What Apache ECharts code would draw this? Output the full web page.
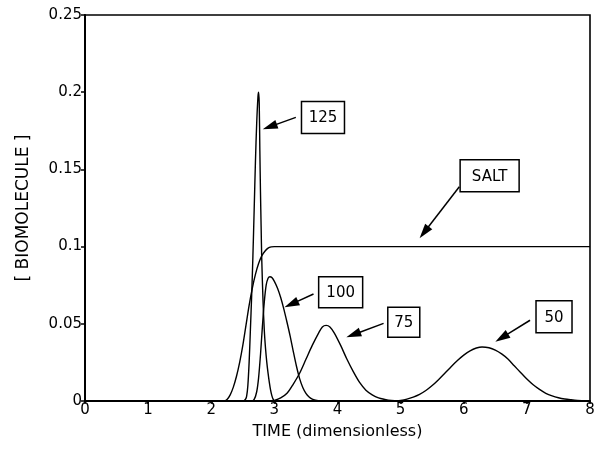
<!DOCTYPE html>
<html><head><meta charset="utf-8">
<script src="https://cdn.jsdelivr.net/npm/echarts@6/dist/echarts.min.js"></script>
<style>html,body{margin:0;padding:0;background:#fff}#c{width:604px;height:449px}</style>
</head><body><div id="c"></div>
<script>
// ---- data ----
const xRange = [0, 8];
const yRange = [0, 0.25];
const salt = [[0,0],[2.2,0],[2.25,0.001],[2.3,0.004],[2.35,0.009],[2.4,0.016],[2.45,0.025],[2.5,0.036],[2.55,0.049],[2.6,0.062],[2.65,0.073],[2.7,0.082],[2.75,0.089],[2.8,0.094],[2.85,0.097],[2.9,0.099],[2.95,0.0998],[3.0,0.1],[8,0.1]];
const peak125 = [[0,0],[2.5,0],[2.54,0.001],[2.56,0.003],[2.58,0.01],[2.6,0.025],[2.62,0.046],[2.64,0.068],[2.66,0.094],[2.68,0.124],[2.7,0.155],[2.72,0.18],[2.74,0.197],[2.75,0.2],[2.76,0.193],[2.77,0.162],[2.78,0.135],[2.79,0.113],[2.8,0.092],[2.82,0.065],[2.84,0.046],[2.86,0.034],[2.88,0.025],[2.9,0.018],[2.92,0.012],[2.94,0.007],[2.96,0.0035],[2.98,0.0012],[3.0,0],[8,0]];
const peak100 = [[0,0],[2.64,0],[2.68,0.001],[2.72,0.006],[2.75,0.015],[2.78,0.03],[2.81,0.048],[2.84,0.064],[2.87,0.075],[2.9,0.0795],[2.93,0.0805],[2.96,0.08],[3.0,0.0775],[3.05,0.073],[3.1,0.067],[3.15,0.0595],[3.2,0.051],[3.25,0.042],[3.3,0.032],[3.35,0.0225],[3.4,0.0145],[3.45,0.0088],[3.5,0.005],[3.55,0.0026],[3.6,0.0012],[3.65,0.0005],[3.72,0],[8,0]];
const peak75 = [[0,0],[2.95,0],[3.0,0.0003],[3.1,0.002],[3.2,0.005],[3.3,0.011],[3.4,0.018],[3.5,0.027],[3.6,0.036],[3.7,0.044],[3.76,0.048],[3.82,0.049],[3.88,0.048],[3.95,0.044],[4.05,0.036],[4.15,0.027],[4.25,0.019],[4.35,0.012],[4.45,0.007],[4.55,0.004],[4.65,0.002],[4.75,0.001],[4.85,0.0003],[4.95,0],[8,0]];
const peak50 = [[0,0],[4.9,0],[5.0,0.0004],[5.1,0.0012],[5.2,0.0025],[5.3,0.0043],[5.4,0.0068],[5.5,0.01],[5.6,0.0138],[5.7,0.0179],[5.8,0.0222],[5.9,0.0262],[6.0,0.0297],[6.1,0.0325],[6.2,0.0343],[6.29,0.035],[6.4,0.0345],[6.5,0.033],[6.6,0.0305],[6.7,0.0272],[6.8,0.0228],[6.9,0.0185],[7.0,0.0142],[7.1,0.0105],[7.2,0.0075],[7.3,0.005],[7.4,0.0033],[7.5,0.0021],[7.6,0.0013],[7.7,0.0008],[7.8,0.0004],[7.9,0.0002],[8,0]];
const labelTexts = ['125','SALT','100','75','50'];

// ---- annotation layout (data coordinates) ----
const notes = [
  {box:[3.77,0.1836], w:43, h:32, tail:[3.34,0.1837], tip:[2.816,0.176]},
  {box:[6.41,0.1459], w:59, h:32, tail:[5.93,0.1388], tip:[5.30,0.1054]},
  {box:[4.05,0.0705], w:44, h:31, tail:[3.62,0.0693], tip:[3.16,0.0607]},
  {box:[5.05,0.051],  w:32, h:30, tail:[4.73,0.0503], tip:[4.14,0.0413]},
  {box:[7.43,0.0546], w:36, h:32, tail:[7.05,0.0523], tip:[6.50,0.0384]}
];

const FONT = 'DejaVu Sans';
const chart = echarts.init(document.getElementById('c'), null, {renderer:'canvas'});
function lineSeries(d){
  return {type:'line', data:d, showSymbol:false, smooth:0.3, clip:true,
    lineStyle:{color:'#000', width:1.4}, itemStyle:{color:'#000'}, animation:false, silent:true};
}
chart.setOption({
  animation:false,
  backgroundColor:'#fff',
  grid:{left:85, right:14, top:15, bottom:48, show:true, borderColor:'#000', borderWidth:1.6, outerBoundsMode:'none', containLabel:false},
  xAxis:{type:'value', min:xRange[0], max:xRange[1], interval:1,
    axisLine:{show:true, onZero:false, lineStyle:{color:'#000', width:2}},
    axisTick:{show:true, length:3, lineStyle:{color:'#000', width:1.5}},
    splitLine:{show:false},
    axisLabel:{color:'#000', fontFamily:FONT, fontSize:15, margin:2},
    name:'TIME (dimensionless)', nameLocation:'middle', nameGap:23,
    nameTextStyle:{color:'#000', fontFamily:FONT, fontSize:16}},
  yAxis:{type:'value', min:yRange[0], max:yRange[1], interval:0.05,
    axisLine:{show:true, onZero:false, lineStyle:{color:'#000', width:2}},
    axisTick:{show:true, length:4, lineStyle:{color:'#000', width:1.5}},
    splitLine:{show:false},
    axisLabel:{color:'#000', fontFamily:FONT, fontSize:15, margin:3},
    name:'[ BIOMOLECULE ]', nameLocation:'middle', nameGap:53, nameRotate:90,
    nameTextStyle:{color:'#000', fontFamily:FONT, fontSize:17}},
  series:[lineSeries(salt), lineSeries(peak125), lineSeries(peak100), lineSeries(peak75), lineSeries(peak50)]
});

// build annotation graphics from data coordinates
const g = [];
notes.forEach((n, i) => {
  const c = chart.convertToPixel({gridIndex:0}, n.box);
  const t0 = chart.convertToPixel({gridIndex:0}, n.tail);
  const t1 = chart.convertToPixel({gridIndex:0}, n.tip);
  const dx = t1[0]-t0[0], dy = t1[1]-t0[1];
  const len = Math.hypot(dx, dy), ux = dx/len, uy = dy/len;
  const L = 15, W = 4.5;
  const bx = t1[0]-ux*L, by = t1[1]-uy*L;
  g.push({type:'rect', z:100, shape:{x:c[0]-n.w/2, y:c[1]-n.h/2, width:n.w, height:n.h},
    style:{fill:'#fff', stroke:'#000', lineWidth:1.5}});
  g.push({type:'text', z:101, x:c[0], y:c[1]+1,
    style:{text:labelTexts[i], font:'15px "DejaVu Sans"', fill:'#000', textAlign:'center', textVerticalAlign:'middle', align:'center', verticalAlign:'middle'}});
  g.push({type:'line', z:100, shape:{x1:t0[0], y1:t0[1], x2:bx+ux*2, y2:by+uy*2}, style:{stroke:'#000', lineWidth:1.5}});
  g.push({type:'polygon', z:100, shape:{points:[[t1[0],t1[1]],[bx-uy*W, by+ux*W],[bx+uy*W, by-ux*W]]}, style:{fill:'#000'}});
});
chart.setOption({graphic:g});
</script>
</body></html>
